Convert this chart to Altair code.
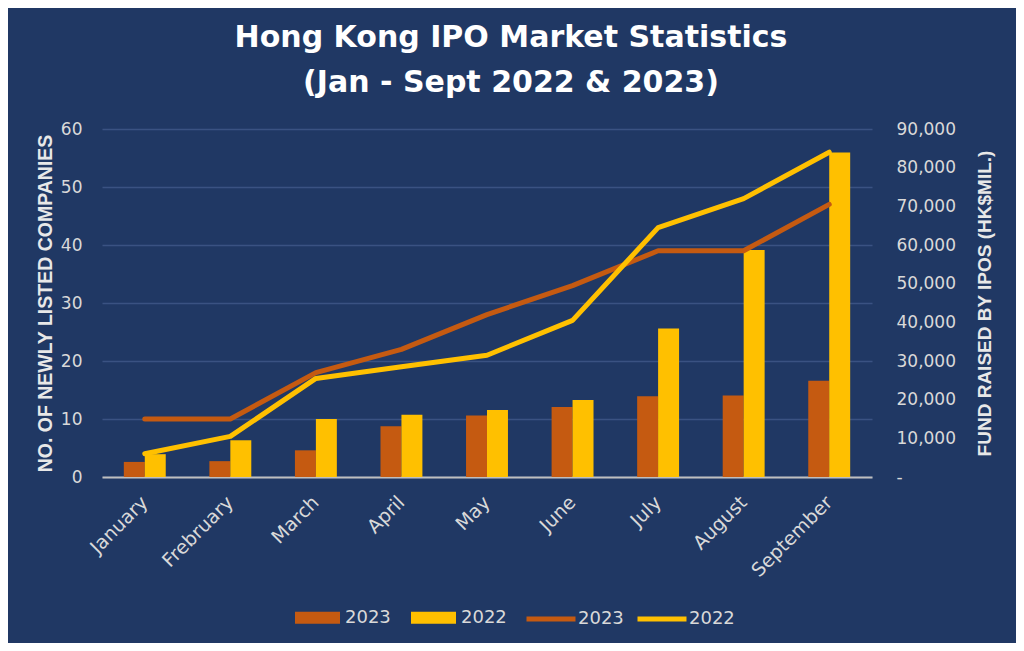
import altair as alt
import pandas as pd

months = ["January", "Frebruary", "March", "April", "May", "June", "July", "August", "September"]
years = ["2023", "2022"]
funds_2023 = [3900, 4100, 6900, 13100, 15900, 18100, 20900, 21100, 24900]
funds_2022 = [5900, 9500, 15000, 16100, 17300, 19900, 38400, 58700, 83900]
count_2023 = [10, 10, 18, 22, 28, 33, 39, 39, 47]
count_2022 = [4, 7, 17, 19, 21, 27, 43, 48, 56]
left_ticks = [0, 10, 20, 30, 40, 50, 60]
right_ticks = [0, 10000, 20000, 30000, 40000, 50000, 60000, 70000, 80000, 90000]

ORANGE = "#C55A11"
YELLOW = "#FFC000"
BG = "#203864"
LABEL = "#d9d9d9"

bars_df = pd.DataFrame(
    [{"month": m, "year": "2023", "funds": v} for m, v in zip(months, funds_2023)]
    + [{"month": m, "year": "2022", "funds": v} for m, v in zip(months, funds_2022)]
)
lines_df = pd.DataFrame(
    [{"month": m, "year": "2023", "count": v} for m, v in zip(months, count_2023)]
    + [{"month": m, "year": "2022", "count": v} for m, v in zip(months, count_2022)]
)

x_enc = alt.X(
    "month:N",
    sort=months,
    scale=alt.Scale(paddingInner=0.51, paddingOuter=0.255),
    axis=alt.Axis(
        title=None,
        labelAngle=315,
        labelAlign="right",
        labelBaseline="middle",
        labelFontSize=19,
        labelFont="DejaVu Sans",
        labelColor=LABEL,
        labelPadding=22,
        domainColor="#bfbfbf",
        domainWidth=2,
        ticks=False,
        grid=False,
    ),
)

bars = alt.Chart(bars_df).mark_bar().encode(
    x=x_enc,
    xOffset=alt.XOffset("year:N", sort=years, scale=alt.Scale(domain=years, paddingInner=0, paddingOuter=0)),
    y=alt.Y(
        "funds:Q",
        scale=alt.Scale(domain=[0, 90000], nice=False),
        axis=alt.Axis(
            orient="right",
            values=right_ticks,
            labelExpr="datum.value == 0 ? '-' : format(datum.value, ',')",
            labelAlign="left",
            labelPadding=24,
            labelFontSize=17,
            labelFont="DejaVu Sans",
            labelColor=LABEL,
            title="FUND RAISED BY IPOS (HK$MIL.)",
            titleFont="Liberation Sans",
            titleFontSize=19,
            titleFontWeight="bold",
            titleColor="#e8e8e8",
            titleAngle=270,
            titlePadding=39,
            grid=False,
            domain=False,
            ticks=False,
        ),
    ),
    color=alt.Color(
        "year:N",
        sort=years,
        scale=alt.Scale(domain=years, range=[ORANGE, YELLOW]),
        legend=alt.Legend(
            orient="none",
            legendX=193,
            legendY=466,
            direction="horizontal",
            columns=2,
            title=None,
            symbolType="M-1,-0.27H1V0.27H-1Z",
            symbolSize=2025,
            symbolStrokeWidth=0,
            symbolOpacity=1,
            labelFontSize=18,
            labelFont="DejaVu Sans",
            labelColor=LABEL,
            labelOffset=5,
            columnPadding=20,
            padding=0,
        ),
    ),
)

lines = alt.Chart(lines_df).mark_line(strokeWidth=5, strokeCap="round", strokeJoin="round").encode(
    x=x_enc,
    y=alt.Y(
        "count:Q",
        scale=alt.Scale(domain=[0, 60], nice=False),
        axis=alt.Axis(
            orient="left",
            values=left_ticks,
            labelFontSize=17,
            labelFont="DejaVu Sans",
            labelColor=LABEL,
            labelPadding=20,
            title="NO. OF NEWLY LISTED COMPANIES",
            titleFont="Liberation Sans",
            titleFontSize=19.5,
            titleFontWeight="bold",
            titleColor="#e8e8e8",
            titlePadding=5,
            grid=True,
            gridColor="#3a5282",
            gridWidth=1.5,
            domain=False,
            ticks=False,
        ),
    ),
    color=alt.Color(
        "year:N",
        sort=years,
        scale=alt.Scale(domain=years, range=[ORANGE, YELLOW]),
        legend=alt.Legend(
            orient="none",
            legendX=422,
            legendY=463,
            direction="horizontal",
            columns=2,
            title=None,
            symbolType="stroke",
            symbolSize=2400,
            symbolStrokeWidth=5,
            labelFontSize=18,
            labelFont="DejaVu Sans",
            labelColor=LABEL,
            labelOffset=0,
            columnPadding=3,
            padding=0,
        ),
    ),
    order=alt.Order("year:N", sort="descending"),
)

chart = (
    alt.layer(bars, lines)
    .resolve_scale(y="independent", color="independent")
    .properties(
        width=770,
        height=348,
        autosize=alt.AutoSizeParams(type="none"),
        padding={"left": 94, "top": 121, "right": 144, "bottom": 166},
        background=BG,
        title=alt.TitleParams(
            ["Hong Kong IPO Market Statistics", "(Jan - Sept 2022 & 2023)"],
            font="DejaVu Sans",
            fontSize=30,
            fontWeight="bold",
            color="white",
            anchor="middle",
            dx=24,
            offset=22,
            lineHeight=45,
        ),
    )
    .configure_view(stroke=None)
)

chart.save("out.html", embed_options={"renderer": "svg", "actions": False})
